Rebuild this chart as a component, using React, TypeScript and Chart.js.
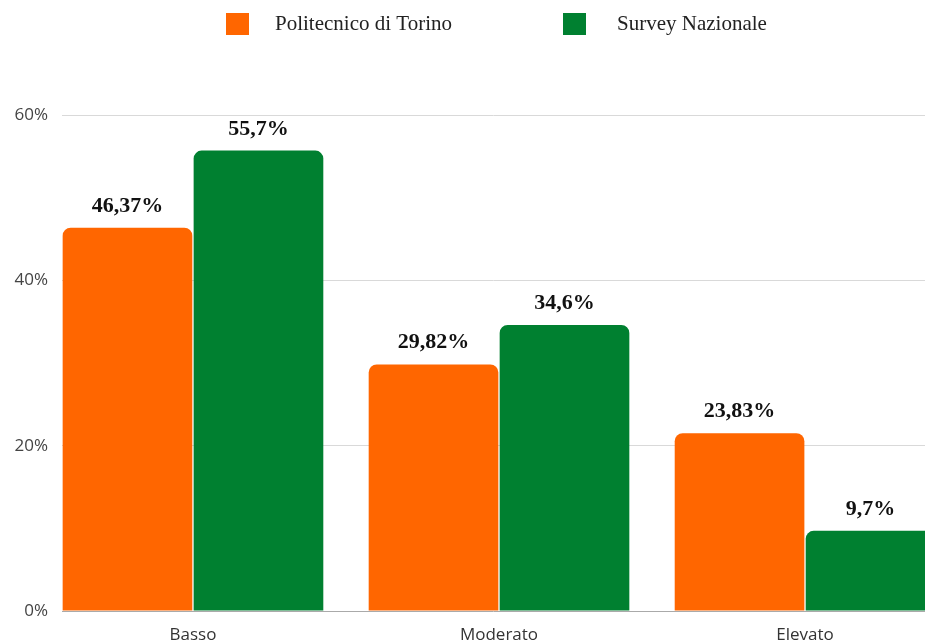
import React, { useEffect, useRef } from "react";
import { Chart, registerables } from "chart.js";

Chart.register(...registerables);

const categories = ["Basso", "Moderato", "Elevato"];
const seriesNames = ["Politecnico di Torino", "Survey Nazionale"];
const politoValues = [46.37, 29.82, 21.5];
const surveyValues = [55.7, 34.6, 9.7];
const politoLabels = ["46,37%", "29,82%", "23,83%"];
const surveyLabels = ["55,7%", "34,6%", "9,7%"];
const yTicks = [0, 20, 40, 60];
const colors = ["#FF6600", "#008030"];

const W = 925;
const H = 642;

export default function App() {
  const ref = useRef<HTMLCanvasElement | null>(null);

  useEffect(() => {
    if (!ref.current) return;
    const valueLabels = [politoLabels, surveyLabels];

    const labelPlugin = {
      id: "valueLabels",
      afterDatasetsDraw(chart: any) {
        const ctx = chart.ctx;
        ctx.save();
        ctx.font = "bold 22px 'Liberation Serif', serif";
        ctx.fillStyle = "#111111";
        ctx.textAlign = "center";
        ctx.textBaseline = "alphabetic";
        chart.data.datasets.forEach((_: any, di: number) => {
          const meta = chart.getDatasetMeta(di);
          meta.data.forEach((el: any, i: number) => {
            ctx.fillText(valueLabels[di][i], el.x, el.y - 16);
          });
        });
        ctx.restore();
      },
    };

    const legendPlugin = {
      id: "customLegend",
      afterDraw(chart: any) {
        const ctx = chart.ctx;
        ctx.save();
        const items = [
          { box: 226, text: 275 },
          { box: 563, text: 617 },
        ];
        ctx.font = "21px 'Liberation Serif', serif";
        ctx.textBaseline = "alphabetic";
        ctx.textAlign = "left";
        items.forEach((it, i) => {
          ctx.fillStyle = colors[i];
          ctx.fillRect(it.box, 13, 23, 22);
          ctx.fillStyle = "#222222";
          ctx.fillText(seriesNames[i], it.text, 30);
        });
        ctx.restore();
      },
    };

    const chart = new Chart(ref.current, {
      type: "bar",
      data: {
        datasets: [
          {
            label: seriesNames[0],
            data: politoValues.map((v, i) => ({ x: i, y: v })),
            backgroundColor: colors[0],
            borderRadius: 8,
            borderSkipped: "start",
          },
          {
            label: seriesNames[1],
            data: surveyValues.map((v, i) => ({ x: i, y: v })),
            backgroundColor: colors[1],
            borderRadius: 8,
            borderSkipped: "start",
          },
        ],
      },
      options: {
        responsive: false,
        animation: false,
        events: [],
        categoryPercentage: 0.856,
        barPercentage: 0.99,
        layout: { padding: { top: 115, left: 0, right: 0, bottom: 0 } },
        plugins: {
          legend: { display: false },
          tooltip: { enabled: false },
        },
        scales: {
          x: {
            type: "linear",
            offset: false,
            min: -0.428,
            max: 2.392,
            grid: { display: false, offset: false },
            border: { display: false },
            afterBuildTicks: (axis: any) => {
              axis.ticks = categories.map((_, i) => ({ value: i }));
            },
            afterFit: (scale: any) => {
              scale.height = 31;
            },
            ticks: {
              padding: 6,
              color: "#333333",
              font: { family: "'Open Sans', sans-serif", size: 17 },
              callback: (v: any) => categories[Math.round(Number(v))] ?? "",
              maxRotation: 0,
              autoSkip: false,
            },
          },
          y: {
            min: 0,
            max: 60,
            afterBuildTicks: (axis: any) => {
              axis.ticks = yTicks.map((v) => ({ value: v }));
            },
            afterFit: (scale: any) => {
              scale.width = 62;
            },
            border: { display: false },
            grid: {
              drawTicks: false,
              color: (c: any) => (c.tick && c.tick.value === 0 ? "#aaaaaa" : "#d9d9d9"),
              lineWidth: 1,
            },
            ticks: {
              padding: 14,
              color: "#444444",
              font: { family: "'Open Sans', sans-serif", size: 17 },
              callback: (v: any) => `${v}%`,
            },
          },
        },
      },
      plugins: [labelPlugin, legendPlugin],
    } as any);

    return () => chart.destroy();
  }, []);

  return (
    <div style={{ position: "fixed", left: 0, top: 0, width: W, height: H, background: "#ffffff" }}>
      <canvas ref={ref} width={W} height={H} style={{ display: "block", width: W, height: H }} />
    </div>
  );
}
